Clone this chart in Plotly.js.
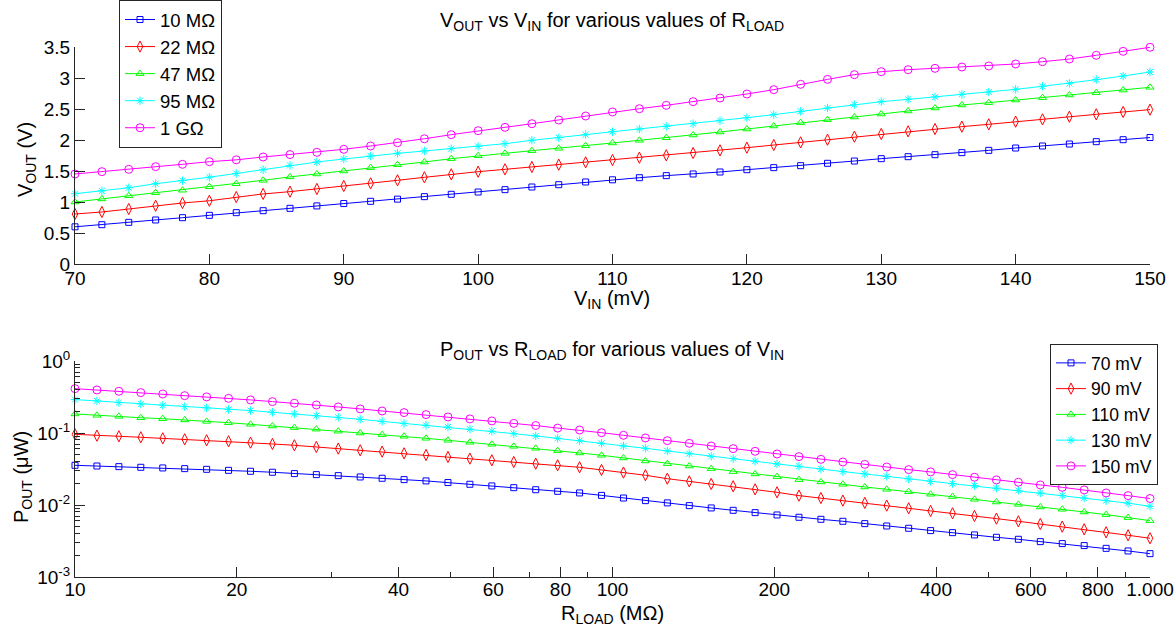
<!DOCTYPE html>
<html>
<head>
<meta charset="utf-8">
<script src="https://cdn.plot.ly/plotly-3.0.1.min.js"></script>
<style>html,body{margin:0;padding:0;background:#fff;}#chart{width:1176px;height:632px;}</style>
</head>
<body>
<div id="chart"></div>
<script>
// ---------- DATA ----------
const vin = [70,72,74,76,78,80,82,84,86,88,90,92,94,96,98,100,102,104,106,108,110,112,114,116,118,120,122,124,126,128,130,132,134,136,138,140,142,144,146,148,150];
const vout10M = [0.600,0.634,0.672,0.710,0.747,0.785,0.828,0.860,0.898,0.937,0.975,1.011,1.046,1.086,1.124,1.161,1.199,1.242,1.279,1.323,1.358,1.392,1.425,1.452,1.484,1.521,1.554,1.586,1.624,1.661,1.699,1.731,1.763,1.796,1.833,1.871,1.903,1.935,1.973,2.005,2.040];
const vout22M = [0.806,0.839,0.887,0.940,0.984,1.020,1.080,1.130,1.167,1.210,1.258,1.301,1.350,1.398,1.446,1.489,1.527,1.565,1.602,1.640,1.677,1.715,1.753,1.790,1.833,1.876,1.919,1.962,2.005,2.054,2.097,2.140,2.177,2.215,2.253,2.296,2.333,2.376,2.414,2.452,2.490];
const vout47M = [1.000,1.050,1.100,1.150,1.190,1.247,1.295,1.350,1.405,1.452,1.500,1.554,1.602,1.645,1.699,1.747,1.785,1.828,1.866,1.908,1.952,1.995,2.037,2.081,2.129,2.177,2.226,2.280,2.328,2.371,2.419,2.468,2.516,2.565,2.602,2.645,2.683,2.726,2.763,2.806,2.850];
const vout95M = [1.134,1.180,1.230,1.295,1.344,1.400,1.460,1.520,1.590,1.645,1.694,1.742,1.785,1.823,1.860,1.898,1.941,1.995,2.037,2.086,2.134,2.177,2.220,2.263,2.312,2.360,2.409,2.462,2.516,2.570,2.618,2.656,2.694,2.737,2.774,2.817,2.866,2.914,2.973,3.032,3.097];
const vout1G = [1.452,1.489,1.527,1.570,1.608,1.650,1.680,1.726,1.765,1.801,1.850,1.903,1.957,2.020,2.086,2.150,2.204,2.263,2.323,2.387,2.452,2.505,2.559,2.618,2.677,2.742,2.812,2.898,2.978,3.054,3.102,3.134,3.156,3.177,3.194,3.226,3.263,3.306,3.366,3.430,3.495];

const rload = [10,10.985,12.068,13.257,14.563,15.999,17.575,19.307,21.210,23.300,25.595,28.118,30.888,33.932,37.276,40.949,44.984,49.417,54.287,59.636,65.513,71.969,79.060,86.851,95.410,104.81,115.14,126.48,138.95,152.64,167.68,184.21,202.36,222.30,244.21,268.27,294.71,323.75,355.66,390.70,429.19,471.49,517.95,568.99,625.06,686.65,754.31,828.64,910.30,1000];
const pout70 = [0.0356,0.0348,0.0341,0.0334,0.0327,0.0320,0.0313,0.0303,0.0294,0.0285,0.0273,0.0264,0.0256,0.0245,0.0235,0.0225,0.0216,0.0205,0.0194,0.0184,0.0174,0.0163,0.0155,0.0147,0.0136,0.0125,0.0115,0.0107,0.0098,0.0091,0.00844,0.00783,0.00727,0.00675,0.00633,0.00594,0.00551,0.00511,0.00475,0.00441,0.00413,0.00384,0.00356,0.00334,0.00310,0.00291,0.00273,0.00250,0.00230,0.00211];
const pout90 = [0.0959,0.0919,0.0900,0.0872,0.0844,0.0818,0.0792,0.0767,0.0735,0.0704,0.0675,0.0640,0.0607,0.0575,0.0551,0.0522,0.0495,0.0465,0.0441,0.0418,0.0396,0.0375,0.0356,0.0334,0.0307,0.0282,0.0259,0.0232,0.0213,0.0196,0.0182,0.0165,0.0150,0.0135,0.0125,0.0115,0.0107,0.0098,0.0090,0.00827,0.00767,0.00704,0.00647,0.00594,0.00545,0.00501,0.00460,0.00418,0.00380,0.00345];
const pout110 = [0.184,0.176,0.1705,0.163,0.158,0.152,0.145,0.139,0.132,0.125,0.119,0.113,0.106,0.100,0.0949,0.0900,0.0844,0.0792,0.0743,0.0697,0.0653,0.0613,0.0569,0.0528,0.0490,0.0450,0.0409,0.0375,0.0348,0.0320,0.0291,0.0270,0.0248,0.0225,0.0209,0.0194,0.0178,0.0165,0.0153,0.0141,0.0131,0.0120,0.0110,0.0102,0.00939,0.00872,0.00800,0.00735,0.00668,0.00607];
const pout130 = [0.291,0.279,0.264,0.253,0.243,0.232,0.223,0.213,0.205,0.194,0.184,0.174,0.165,0.155,0.145,0.136,0.128,0.121,0.113,0.106,0.098,0.091,0.0844,0.0783,0.0719,0.0660,0.0613,0.0563,0.0517,0.0475,0.0441,0.0405,0.0371,0.0345,0.0316,0.0291,0.0270,0.0250,0.0230,0.0213,0.0198,0.0186,0.0172,0.0160,0.0147,0.0136,0.0125,0.0115,0.0106,0.0096];
const pout150 = [0.413,0.396,0.380,0.364,0.348,0.330,0.317,0.303,0.288,0.273,0.259,0.245,0.230,0.216,0.202,0.192,0.180,0.167,0.157,0.147,0.136,0.127,0.117,0.110,0.101,0.0929,0.0853,0.0783,0.0719,0.0660,0.0607,0.0557,0.0511,0.0470,0.0431,0.0396,0.0367,0.0337,0.0310,0.0288,0.0264,0.0243,0.0223,0.0207,0.0190,0.0176,0.0162,0.0147,0.0135,0.0123];

const topNames = ['10 MΩ','22 MΩ','47 MΩ','95 MΩ','1 GΩ'];
const bottomNames = ['70 mV','90 mV','110 mV','130 mV','150 mV'];
const topXTicks = [70,80,90,100,110,120,130,140,150];
const topYTicks = [0,0.5,1,1.5,2,2.5,3,3.5];
const botXTicks = [10,20,40,60,80,100,200,400,600,800,1000];
const botXLabels = ['10','20','40','60','80','100','200','400','600','800','1.000'];
const botXMinor = [30,50,70,90,300,500,700,900];
const botYTicks = [0.001,0.01,0.1,1];
const botYLabels = ['10<sup>-3</sup>','10<sup>-2</sup>','10<sup>-1</sup>','10<sup>0</sup>'];
const botYMinor = [0.002,0.003,0.004,0.005,0.006,0.007,0.008,0.009,0.02,0.03,0.04,0.05,0.06,0.07,0.08,0.09,0.2,0.3,0.4,0.5,0.6,0.7,0.8,0.9];

// ---------- STYLE ----------
const colors = ['#0000ff','#ff0000','#00ff00','#00ffff','#ff00ff'];
const symbols = ['square-open','diamond-tall-open','triangle-up-open','asterisk-open','circle-open'];
const sizes = [6,8,7,7,8];
const FONT = 'Liberation Sans, Arial, sans-serif';
const AX = '#262626';

const topY = [vout10M, vout22M, vout47M, vout95M, vout1G];
const botY = [pout70, pout90, pout110, pout130, pout150];

const traces = [];
topY.forEach((ys,i)=>{
  traces.push({x: vin, y: ys, name: topNames[i], type:'scatter', mode:'lines+markers',
    xaxis:'x', yaxis:'y', legend:'legend', cliponaxis:false,
    line:{color:colors[i], width:1},
    marker:{symbol:symbols[i], size:sizes[i], color:colors[i], line:{color:colors[i], width:1}}});
});
botY.forEach((ys,i)=>{
  traces.push({x: rload, y: ys, name: bottomNames[i], type:'scatter', mode:'lines+markers',
    xaxis:'x2', yaxis:'y2', legend:'legend2', cliponaxis:false,
    line:{color:colors[i], width:1},
    marker:{symbol:symbols[i], size:sizes[i], color:colors[i], line:{color:colors[i], width:1}}});
});

const axBase = {showline:true, linecolor:AX, linewidth:1, mirror:false, showgrid:false, zeroline:false, automargin:false,
  ticks:'inside', ticklen:10, tickwidth:1, tickcolor:AX, tickfont:{family:FONT, size:19, color:'#000'}};

const L=75, R=1150, T=47, B=577;
const px = v => (v-L)/(R-L);
const py = v => (B-v)/(B-T);

const layout = {
  width:1176, height:632,
  margin:{l:L, r:1176-R, t:T, b:632-B, pad:0, autoexpand:false},
  paper_bgcolor:'#fff', plot_bgcolor:'#fff',
  font:{family:FONT, size:19, color:'#000'},
  showlegend:true,
  xaxis: Object.assign({}, axBase, {domain:[0,1], range:[70,150], anchor:'y', tickmode:'array', tickvals:topXTicks, ticklabelstandoff:-3, tickangle:0}),
  yaxis: Object.assign({}, axBase, {domain:[py(264),1], range:[0,3.5], anchor:'x', tickmode:'array', tickvals:topYTicks}),
  xaxis2: Object.assign({}, axBase, {domain:[0,1], type:'log', range:[1,3], anchor:'y2', tickmode:'array', tickvals:botXTicks, ticktext:botXLabels, ticklabelstandoff:-5, tickangle:0,
    minor:{tickmode:'array', tickvals:botXMinor, ticks:'inside', ticklen:5, tickwidth:1, tickcolor:AX, showgrid:false}}),
  yaxis2: Object.assign({}, axBase, {domain:[0,py(361)], type:'log', range:[-3,0], anchor:'x2', tickmode:'array', tickvals:botYTicks, ticktext:botYLabels,
    minor:{tickmode:'array', tickvals:botYMinor, ticks:'inside', ticklen:5, tickwidth:1, tickcolor:AX, showgrid:false}}),
  legend:{x:px(119), y:py(0), xanchor:'left', yanchor:'top', bgcolor:'#fff', bordercolor:AX, borderwidth:1,
    font:{family:FONT, size:18.5, color:'#000'}, itemwidth:30, traceorder:'normal'},
  legend2:{x:px(1050), y:py(344), xanchor:'left', yanchor:'top', bgcolor:'#fff', bordercolor:AX, borderwidth:1,
    font:{family:FONT, size:17.5, color:'#000'}, itemwidth:30, traceorder:'normal'},
  annotations:[
    {text:'V<sub>OUT</sub> vs V<sub>IN</sub> for various values of R<sub>LOAD</sub>', xref:'paper', yref:'paper', x:px(612), y:py(22), xanchor:'center', yanchor:'middle', showarrow:false, font:{family:FONT, size:20, color:'#000'}},
    {text:'P<sub>OUT</sub> vs R<sub>LOAD</sub> for various values of V<sub>IN</sub>', xref:'paper', yref:'paper', x:px(612), y:py(350), xanchor:'center', yanchor:'middle', showarrow:false, font:{family:FONT, size:20, color:'#000'}},
    {text:'V<sub>IN</sub> (mV)', xref:'paper', yref:'paper', x:px(612), y:py(299), xanchor:'center', yanchor:'middle', showarrow:false, font:{family:FONT, size:20, color:'#000'}},
    {text:'R<sub>LOAD</sub> (MΩ)', xref:'paper', yref:'paper', x:px(612), y:py(614), xanchor:'center', yanchor:'middle', showarrow:false, font:{family:FONT, size:20, color:'#000'}},
    {text:'V<sub>OUT</sub> (V)', xref:'paper', yref:'paper', x:px(27), y:py(160), xanchor:'center', yanchor:'middle', textangle:-90, showarrow:false, font:{family:FONT, size:20, color:'#000'}},
    {text:'P<sub>OUT</sub> (μW)', xref:'paper', yref:'paper', x:px(22), y:py(477), xanchor:'center', yanchor:'middle', textangle:-90, showarrow:false, font:{family:FONT, size:20, color:'#000'}}
  ]
};

Plotly.newPlot('chart', traces, layout, {displayModeBar:false, staticPlot:true});
</script>
</body>
</html>
